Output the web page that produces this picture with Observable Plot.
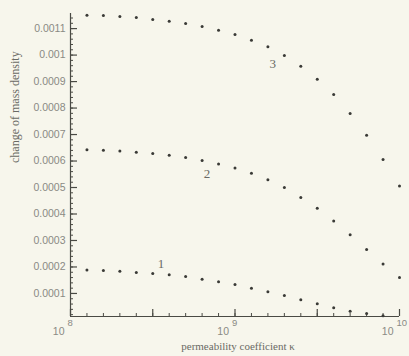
<!DOCTYPE html>
<html>
<head>
<meta charset="utf-8">
<script src="https://cdn.jsdelivr.net/npm/d3@7"></script>
<script src="https://cdn.jsdelivr.net/npm/@observablehq/plot@0.6"></script>
<style>
  html, body { margin: 0; padding: 0; background: #f7f6ec; }
</style>
</head>
<body>
<div id="chart"></div>
<script>
// log10 of permeability coefficient
const exponents = [8.1, 8.2, 8.3, 8.4, 8.5, 8.6, 8.7, 8.8, 8.9, 9.0,
                   9.1, 9.2, 9.3, 9.4, 9.5, 9.6, 9.7, 9.8, 9.9, 10.0];
const series1 = [0.000189, 0.000187, 0.000184, 0.000179, 0.000175, 0.000171, 0.000164, 0.000154, 0.000144, 0.000134,
                 0.000120, 0.000106, 0.0000925, 0.0000762, 0.0000611, 0.0000460, 0.0000332, 0.0000245, 0.0000158];
const series2 = [0.000643, 0.000641, 0.000638, 0.000633, 0.000628, 0.000622, 0.000613, 0.000602, 0.000589, 0.000574,
                 0.000554, 0.000529, 0.000500, 0.000462, 0.000422, 0.000374, 0.000322, 0.000266, 0.000211, 0.000160];
const series3 = [0.001150, 0.001149, 0.001146, 0.001142, 0.001134, 0.001128, 0.001119, 0.001108, 0.001094, 0.001078,
                 0.001056, 0.001031, 0.000998, 0.000958, 0.000909, 0.000851, 0.000779, 0.000697, 0.000606, 0.000506];
const seriesNames = ["1", "2", "3"];
const labelX = [8.55, 8.83, 9.23];
const labelY = [0.000213, 0.000553, 0.000968];

const xDomain = [8, 10];
const yDomain = [0.000013, 0.001157];
const xMajor = [8, 8.5, 9, 9.5, 10];
const xMinor = d3.range(81, 100).map(d => d / 10);
const xDecades = [8, 9, 10];
const xDecadeLabels = ["8", "9", "10"];
const yMajor = [0.0001, 0.0002, 0.0003, 0.0004, 0.0005, 0.0006, 0.0007, 0.0008, 0.0009, 0.001, 0.0011];
const yTickLabels = ["0.0001", "0.0002", "0.0003", "0.0004", "0.0005", "0.0006", "0.0007", "0.0008", "0.0009", "0.001", "0.0011"];
const yMinor = d3.range(1, 58).map(d => d * 0.00002);

const points = [];
[series1, series2, series3].forEach((s, k) => {
  s.forEach((v, i) => points.push({x: exponents[i], y: v, series: seriesNames[k]}));
});
const labels = seriesNames.map((n, i) => ({x: labelX[i], y: labelY[i], text: n}));
const yTicks = yMajor.map((v, i) => ({y: v, text: yTickLabels[i]}));
const xTicks = xDecades.map((v, i) => ({x: v, exp: xDecadeLabels[i]}));

const W = 409, H = 356;
const mL = 70, mR = 10, mT = 13, mB = 40;
const plotW = W - mL - mR, plotH = H - mT - mB;
const axisColor = "#4a4a44";
const sans = "Liberation Sans, Arial, sans-serif";
const serif = "Liberation Serif, DejaVu Serif, serif";

const chart = Plot.plot({
  width: W,
  height: H,
  marginLeft: mL, marginRight: mR, marginTop: mT, marginBottom: mB,
  style: {background: "#f7f6ec"},
  x: {domain: xDomain, axis: null},
  y: {domain: yDomain, axis: null},
  marks: [
    Plot.ruleX([xDomain[0]], {stroke: axisColor, strokeWidth: 1.2}),
    Plot.ruleY([yDomain[0]], {stroke: axisColor, strokeWidth: 1.2}),
    Plot.tickX(xMinor, {x: d => d, insetTop: plotH - 3, stroke: axisColor}),
    Plot.tickX(xMajor, {x: d => d, insetTop: plotH - 7, stroke: axisColor, strokeWidth: 1.2}),
    Plot.tickY(yMinor, {y: d => d, insetRight: plotW - 3, stroke: axisColor}),
    Plot.tickY(yMajor, {y: d => d, insetRight: plotW - 7, stroke: axisColor, strokeWidth: 1.2}),
    Plot.text(yTicks, {y: "y", text: "text", frameAnchor: "left", dx: -5, textAnchor: "end",
      fill: "#8a8a84", fontSize: 10.5, fontFamily: sans}),
    Plot.text(xTicks, {x: "x", text: () => "10", frameAnchor: "bottom", dx: -6, dy: 18, textAnchor: "end",
      fill: "#8a8a84", fontSize: 10.5, fontFamily: sans}),
    Plot.text(xTicks, {x: "x", text: "exp", frameAnchor: "bottom", dx: -3, dy: 9, textAnchor: "start",
      fill: "#8a8a84", fontSize: 9.5, fontFamily: sans}),
    Plot.text(["permeability coefficient κ"], {frameAnchor: "bottom", dy: 33, dx: 3, text: d => d,
      fill: "#6a6a64", fontSize: 11, fontFamily: serif}),
    Plot.text(["change of mass density"], {frameAnchor: "left", dx: -55, dy: -2, rotate: -90, text: d => d,
      fill: "#6a6a64", fontSize: 12, fontFamily: serif}),
    Plot.dot(points, {x: "x", y: "y", r: 1.5, fill: "#3a3a36", stroke: null}),
    Plot.text(labels, {x: "x", y: "y", text: "text", fill: "#6a6a64", fontSize: 13, fontFamily: serif})
  ]
});
document.getElementById("chart").appendChild(chart);
</script>
</body>
</html>
